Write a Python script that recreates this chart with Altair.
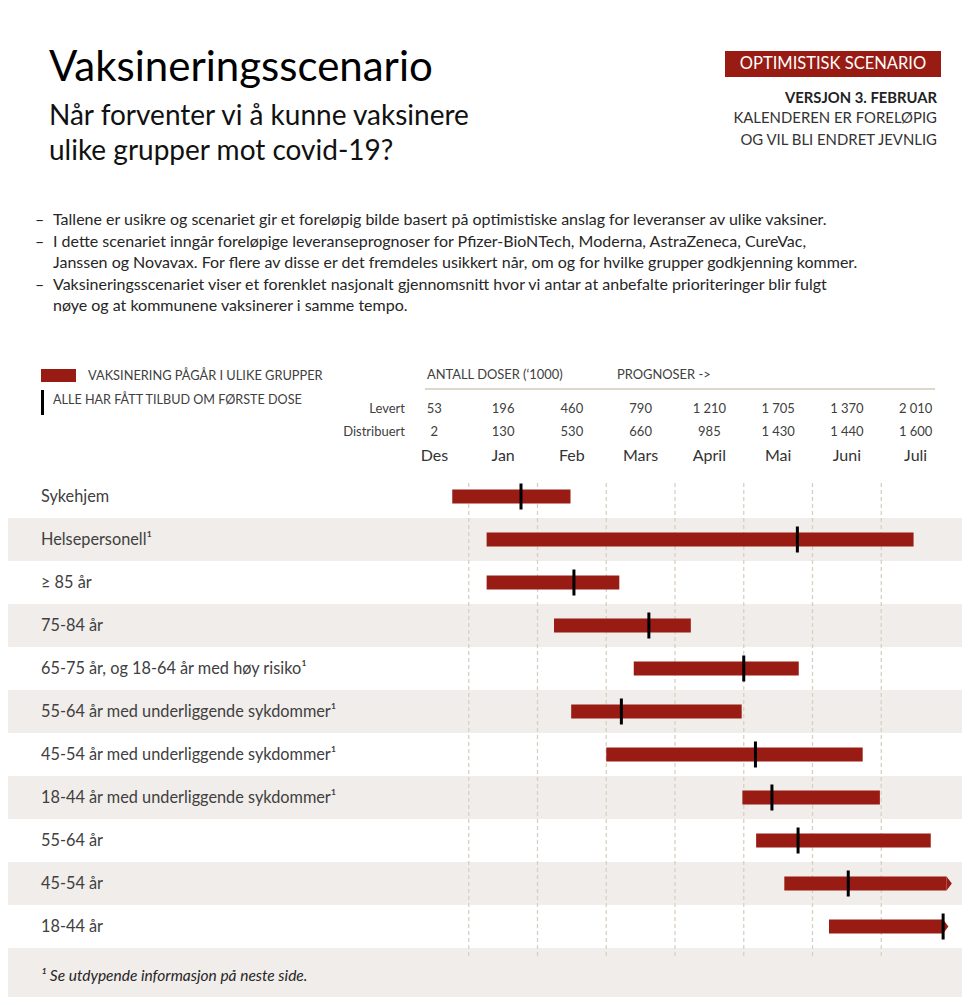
import altair as alt
import pandas as pd

# ---------------- data ----------------
rows = [
    "Sykehjem",
    "Helsepersonell¹",
    "≥ 85 år",
    "75-84 år",
    "65-75 år, og 18-64 år med høy risiko¹",
    "55-64 år med underliggende sykdommer¹",
    "45-54 år med underliggende sykdommer¹",
    "18-44 år med underliggende sykdommer¹",
    "55-64 år",
    "45-54 år",
    "18-44 år",
]
# month units: 0 = start of Des, 1 = start of Jan, ... 8 = end of Juli
start = [0.76, 1.26, 1.26, 2.24, 3.40, 2.49, 3.00, 4.98, 5.18, 5.59, 6.24]
end = [2.48, 7.47, 3.19, 4.23, 5.80, 4.97, 6.73, 6.98, 7.72, 7.95, 7.90]
first_dose = [1.76, 5.78, 2.53, 3.62, 5.00, 3.22, 5.17, 5.41, 5.79, 6.52, 7.90]
continues = [False, False, False, False, False, False, False, False, False, True, True]

months = ["Des", "Jan", "Feb", "Mars", "April", "Mai", "Juni", "Juli"]
levert = ["53", "196", "460", "790", "1 210", "1 705", "1 370", "2 010"]
distribuert = ["2", "130", "530", "660", "985", "1 430", "1 440", "1 600"]
month_bounds = [1, 2, 3, 4, 5, 6, 7]

title = "Vaksineringsscenario"
subtitle = ["Når forventer vi å kunne vaksinere", "ulike grupper mot covid-19?"]
badge = "OPTIMISTISK SCENARIO"
version = "VERSJON 3. FEBRUAR"
note_lines = ["KALENDEREN ER FORELØPIG", "OG VIL BLI ENDRET JEVNLIG"]
bullets = [
    ["Tallene er usikre og scenariet gir et foreløpig bilde basert på optimistiske anslag for leveranser av ulike vaksiner."],
    ["I dette scenariet inngår foreløpige leveranseprognoser for Pfizer-BioNTech, Moderna, AstraZeneca, CureVac,",
     "Janssen og Novavax. For flere av disse er det fremdeles usikkert når, om og for hvilke grupper godkjenning kommer."],
    ["Vaksineringsscenariet viser et forenklet nasjonalt gjennomsnitt hvor vi antar at anbefalte prioriteringer blir fulgt",
     "nøye og at kommunene vaksinerer i samme tempo."],
]
legend_bar = "VAKSINERING PÅGÅR I ULIKE GRUPPER"
legend_tick = "ALLE HAR FÅTT TILBUD OM FØRSTE DOSE"
doses_head = "ANTALL DOSER (‘1000)"
prognose_head = "PROGNOSER ->"
footnote = "¹ Se utdypende informasjon på neste side."

# ---------------- style / layout ----------------
FONT = "Lato"
RED = "#981C13"
GREY = "#F1EDEA"
GRID = "#D9D0C4"
TXT = "#404040"
W, H = 954, 989
X0 = 392.0        # pixel of start of Des
MPX = 68.75       # pixels per month

x_scale = alt.Scale(domain=[-X0 / MPX, (W - X0) / MPX], nice=False, zero=False)
y_scale = alt.Scale(domain=rows, range=[467, 940], paddingInner=0, paddingOuter=0)

df_rows = pd.DataFrame({
    "row": rows, "start": start, "end": end, "first": first_dose,
    "cont": continues, "shade": [i % 2 == 1 for i in range(len(rows))],
})
df_months = pd.DataFrame({
    "month": months, "levert": levert, "dist": distribuert,
    "center": [i + 0.5 for i in range(len(months))],
})
one = pd.DataFrame({"k": [0]})

Y = alt.Y("row:N", scale=y_scale, axis=None)


def txt(text, x, y, size, align="left", color=TXT, weight="normal", style="normal", baseline="middle"):
    return alt.Chart(one).mark_text(
        text=text, font=FONT, fontSize=size, align=align, baseline=baseline,
        color=color, fontWeight=weight, fontStyle=style,
    ).encode(x=alt.value(x), y=alt.value(y))


layers = []

# row shading
layers.append(
    alt.Chart(df_rows).transform_filter("datum.shade").mark_rect(color=GREY)
    .encode(y=Y, x=alt.value(0), x2=alt.value(W))
)
layers.append(
    alt.Chart(one).mark_rect(color=GREY)
    .encode(x=alt.value(0), x2=alt.value(W), y=alt.value(940), y2=alt.value(H))
)
# month boundary gridlines
layers.append(
    alt.Chart(pd.DataFrame({"b": month_bounds})).mark_rule(color=GRID, strokeDash=[4, 3], strokeWidth=1.3)
    .encode(x=alt.X("b:Q", scale=x_scale, axis=None), y=alt.value(475), y2=alt.value(951))
)
# bars
layers.append(
    alt.Chart(df_rows).mark_bar(color=RED, size=14, opacity=1)
    .encode(y=Y, x=alt.X("start:Q", scale=x_scale, axis=None), x2="end:Q")
)
# arrow heads
layers.append(
    alt.Chart(df_rows).transform_filter("datum.cont")
    .mark_point(shape="M0,-1L0.75,0L0,1Z", size=196, filled=True, color=RED, opacity=1, strokeWidth=0)
    .encode(y=Y, x=alt.X("end:Q", scale=x_scale, axis=None))
)
# first-dose ticks
layers.append(
    alt.Chart(df_rows).mark_tick(color="black", thickness=3, size=26, opacity=1)
    .encode(y=Y, x=alt.X("first:Q", scale=x_scale, axis=None))
)
# row labels
layers.append(
    alt.Chart(df_rows).mark_text(align="left", baseline="middle", font=FONT, fontSize=16.3, color=TXT)
    .encode(y=Y, x=alt.value(33), text="row:N")
)

# header table
layers.append(
    alt.Chart(df_months).mark_text(font=FONT, fontSize=13, color=TXT, align="center", baseline="middle")
    .encode(x=alt.X("center:Q", scale=x_scale, axis=None), y=alt.value(401), text="levert:N")
)
layers.append(
    alt.Chart(df_months).mark_text(font=FONT, fontSize=13, color=TXT, align="center", baseline="middle")
    .encode(x=alt.X("center:Q", scale=x_scale, axis=None), y=alt.value(424), text="dist:N")
)
layers.append(
    alt.Chart(df_months).mark_text(font=FONT, fontSize=16, color="#333333", align="center", baseline="middle")
    .encode(x=alt.X("center:Q", scale=x_scale, axis=None), y=alt.value(448), text="month:N")
)
layers.append(txt("Levert", 397, 401, 13, align="right"))
layers.append(txt("Distribuert", 397, 424, 13, align="right"))
layers.append(txt(doses_head, 419, 367, 12.9))
layers.append(txt(prognose_head, 609, 367, 12.9))
layers.append(
    alt.Chart(one).mark_rule(color="#DDD8CB", strokeWidth=2)
    .encode(x=alt.value(417), x2=alt.value(927), y=alt.value(381))
)

# legend
layers.append(
    alt.Chart(one).mark_rect(color=RED)
    .encode(x=alt.value(33), x2=alt.value(68), y=alt.value(361), y2=alt.value(374))
)
layers.append(txt(legend_bar, 80, 367.5, 12.8))
layers.append(
    alt.Chart(one).mark_rule(color="black", strokeWidth=3)
    .encode(x=alt.value(34.5), y=alt.value(382), y2=alt.value(407))
)
layers.append(txt(legend_tick, 45, 392, 12.6))

# title block
layers.append(txt(title, 41, 73, 42, color="black", baseline="alphabetic"))
layers.append(txt(subtitle[0], 41, 117, 28, color="#111111", baseline="alphabetic"))
layers.append(txt(subtitle[1], 41, 152, 28, color="#111111", baseline="alphabetic"))

# badge + version note
layers.append(
    alt.Chart(one).mark_rect(color=RED)
    .encode(x=alt.value(717), x2=alt.value(933), y=alt.value(43), y2=alt.value(69))
)
layers.append(txt(badge, 825, 56, 16.5, align="center", color="white"))
layers.append(txt(version, 929, 91, 14.8, align="right", color="#222222", weight="bold"))
layers.append(txt(note_lines[0], 929, 111, 14.9, align="right", color="#333333"))
layers.append(txt(note_lines[1], 929, 133, 14.9, align="right", color="#333333"))

# bullet list
y = 212
for item in bullets:
    layers.append(txt("–", 27, y, 16, color="#262626"))
    for line in item:
        layers.append(txt(line, 45, y, 16, color="#262626"))
        y += 21.5

# footnote
layers.append(txt(footnote, 33, 968, 15.5, color="#262626", style="italic"))

chart = alt.layer(*layers).properties(
    width=W, height=H, autosize=alt.AutoSizeParams(type="none"), padding=0,
    background="white",
).configure_view(stroke=None)

chart.save("out.html", embed_options={"renderer": "svg", "actions": False})
